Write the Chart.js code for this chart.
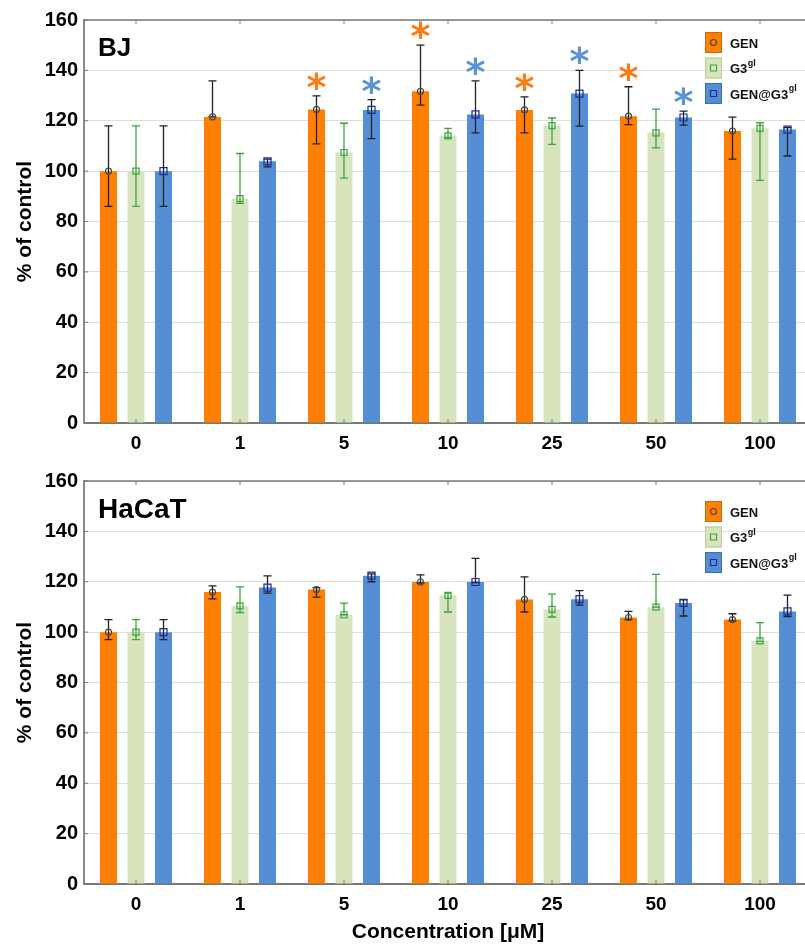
<!DOCTYPE html>
<html lang="en">
<head>
<meta charset="UTF-8">
<title>BJ / HaCaT – % of control</title>
<script src="https://cdn.jsdelivr.net/npm/chart.js"></script>
<style>
  html, body { margin: 0; padding: 0; background: #fff; overflow: hidden; width: 805px; height: 948px; }
  canvas { position: absolute; left: 0; }
  #bjChart { top: 0; }
  #hacatChart { top: 460px; }
</style>
</head>
<body>

<canvas id="bjChart" width="812" height="460"></canvas>
<canvas id="hacatChart" width="812" height="488"></canvas>

<script>
// categories (concentration, µM)
const categories = ['0', '1', '5', '10', '25', '50', '100'];
const yTicks = [0, 20, 40, 60, 80, 100, 120, 140, 160];

const seriesNames = ['GEN', 'G3', 'GEN@G3'];
const seriesSup = ['', 'gl', 'gl'];

// BJ
const bjGen      = [100, 121.5, 124.5, 131.7, 124.3, 121.8, 115.9];
const bjGenLow   = [86, 121.5, 110.8, 126.2, 115.2, 118.5, 104.8];
const bjGenHigh  = [118, 135.8, 129.9, 150, 129.5, 133.5, 121.4];
const bjG3       = [100, 89.1, 107.4, 114, 118.1, 115.2, 117];
const bjG3Low    = [86, 87.2, 97.2, 113.3, 110.6, 109.2, 96.3];
const bjG3High   = [118, 107, 119, 117, 121.1, 124.6, 119.2];
const bjMix      = [100, 103.9, 124.3, 122.5, 130.8, 121.3, 116.5];
const bjMixLow   = [86, 101.7, 112.9, 115.2, 117.9, 118.3, 106];
const bjMixHigh  = [118, 104.8, 128.4, 135.8, 140, 123.8, 117.3];
const bjStarsGen = [2, 3, 4, 5];
const bjStarsMix = [2, 3, 4, 5];

// HaCaT
const hcGen      = [100, 115.9, 116.9, 119.9, 113, 105.8, 105];
const hcGenLow   = [97, 113.2, 113.9, 119.5, 108, 105, 104.5];
const hcGenHigh  = [105, 118.4, 117.7, 122.7, 121.9, 108.2, 107.3];
const hcG3       = [100, 110.4, 106.9, 114.6, 109, 109.9, 96.5];
const hcG3Low    = [97, 107.8, 106.9, 108, 106, 109.9, 96.3];
const hcG3High   = [105, 118, 111.5, 115.5, 115.1, 122.9, 103.8];
const hcMix      = [100, 117.7, 122.4, 119.9, 113.1, 111.6, 108.2];
const hcMixLow   = [97, 115.5, 120, 119.7, 110.7, 106.4, 106.2];
const hcMixHigh  = [105, 122.3, 123.1, 129.3, 116.5, 112.8, 114.7];

const ORANGE = '#ff8000';
const GREEN = '#d8e4bd';
const BLUE = '#558ed5';
const FONT = 'Arial, "Liberation Sans", sans-serif';

function drawMarker(ctx, kind, x, y, color) {
  ctx.strokeStyle = color;
  ctx.lineWidth = 1.2;
  ctx.beginPath();
  if (kind === 'circle') {
    ctx.arc(x, y, 3, 0, Math.PI * 2);
  } else if (kind === 'square') {
    ctx.rect(x - 3, y - 3, 6, 6);
  } else {
    ctx.rect(x - 3.5, y - 3.5, 7, 7);
  }
  ctx.stroke();
}

const decor = {
  id: 'decor',
  afterDatasetsDraw(chart, args, opts) {
    const ctx = chart.ctx;
    const area = chart.chartArea;
    const xs = chart.scales.x, ys = chart.scales.y;
    ctx.save();

    // top frame + inner ticks
    ctx.strokeStyle = '#7a7a7a';
    ctx.lineWidth = 1.5;
    ctx.beginPath();
    ctx.moveTo(area.left, area.top);
    ctx.lineTo(area.right, area.top);
    ctx.stroke();
    ctx.lineWidth = 1;
    ctx.beginPath();
    xs.ticks.forEach((t, i) => {
      const px = xs.getPixelForTick(i);
      ctx.moveTo(px, area.top); ctx.lineTo(px, area.top + 4);
      ctx.moveTo(px, area.bottom); ctx.lineTo(px, area.bottom - 4);
    });
    ys.ticks.forEach((t, i) => {
      const py = ys.getPixelForTick(i);
      ctx.moveTo(area.left, py); ctx.lineTo(area.left + 4, py);
    });
    ctx.stroke();

    // error bars, markers, significance stars
    chart.data.datasets.forEach((ds, di) => {
      const meta = chart.getDatasetMeta(di);
      meta.data.forEach((bar, j) => {
        const cx = bar.x;
        const yl = ys.getPixelForValue(ds.errLow[j]);
        const yh = ys.getPixelForValue(ds.errHigh[j]);
        ctx.strokeStyle = ds.errColor;
        ctx.lineWidth = 1.3;
        ctx.beginPath();
        ctx.moveTo(cx, yl); ctx.lineTo(cx, yh);
        ctx.moveTo(cx - 4, yl); ctx.lineTo(cx + 4, yl);
        ctx.moveTo(cx - 4, yh); ctx.lineTo(cx + 4, yh);
        ctx.stroke();
        drawMarker(ctx, ds.marker, cx, ys.getPixelForValue(ds.data[j]), ds.markerColor);

        if (ds.stars.includes(j)) {
          ctx.fillStyle = ds.starColor;
          ctx.font = 'bold 38px "DejaVu Sans"';
          ctx.textAlign = 'center';
          ctx.textBaseline = 'alphabetic';
          const m = ctx.measureText('*');
          const cy = yh - 15;
          ctx.fillText('*', cx, cy + (m.actualBoundingBoxAscent - m.actualBoundingBoxDescent) / 2);
        }
      });
    });

    // panel title
    ctx.fillStyle = '#000';
    ctx.textAlign = 'left';
    ctx.textBaseline = 'alphabetic';
    ctx.font = 'bold ' + opts.titleSize + 'px ' + FONT;
    ctx.fillText(opts.title, area.left + 14, opts.titleBase);

    // legend
    const bx = area.right - 107;
    chart.data.datasets.forEach((ds, di) => {
      const by = area.top + opts.legendTop + di * 25.5;
      ctx.fillStyle = ds.backgroundColor;
      ctx.fillRect(bx, by, 17, 21);
      ctx.strokeStyle = ds.legendBorder;
      ctx.lineWidth = 1;
      ctx.strokeRect(bx + 0.5, by + 0.5, 16, 20);
      drawMarker(ctx, ds.marker === 'circle' ? 'circle' : 'square', bx + 8.5, by + 10.5, ds.markerColor);
      ctx.fillStyle = '#111';
      ctx.font = 'bold 13px ' + FONT;
      ctx.textBaseline = 'middle';
      ctx.fillText(seriesNames[di], bx + 25, by + 12);
      if (seriesSup[di]) {
        const w = ctx.measureText(seriesNames[di]).width;
        ctx.font = 'bold 9px ' + FONT;
        ctx.fillText(seriesSup[di], bx + 25 + w + 0.5, by + 6);
      }
    });
    ctx.restore();
  }
};

function makeChart(id, gen, genLow, genHigh, g3, g3Low, g3High, mix, mixLow, mixHigh, starsGen, starsMix, cfg) {
  const ctx = document.getElementById(id).getContext('2d');
  return new Chart(ctx, {
    type: 'bar',
    data: {
      labels: categories,
      datasets: [
        { label: 'GEN', data: gen, backgroundColor: ORANGE, errLow: genLow, errHigh: genHigh,
          errColor: '#222', marker: 'circle', markerColor: '#4a4a4a', stars: starsGen, starColor: '#ff7a12',
          legendBorder: '#c86a10' },
        { label: 'G3gl', data: g3, backgroundColor: GREEN, errLow: g3Low, errHigh: g3High,
          errColor: '#3fa33f', marker: 'square', markerColor: '#3fa33f', stars: [], starColor: '#3fa33f',
          legendBorder: '#b9cc98' },
        { label: 'GEN@G3gl', data: mix, backgroundColor: BLUE, errLow: mixLow, errHigh: mixHigh,
          errColor: '#222', marker: 'bigsquare', markerColor: '#1a2a9a', stars: starsMix, starColor: '#5b93d6',
          legendBorder: '#3f6ea8' }
      ]
    },
    options: {
      responsive: false,
      animation: false,
      layout: { padding: { top: cfg.padTop, right: 0, bottom: 0, left: 0 } },
      datasets: { bar: { barPercentage: 0.62, categoryPercentage: 0.793 } },
      scales: {
        x: {
          grid: { display: false },
          border: { color: '#777', width: 2 },
          ticks: { color: '#000', padding: 1, font: { family: FONT, size: 19, weight: 'bold' } },
          title: {
            display: cfg.xTitle, text: 'Concentration [μM]', color: '#000',
            font: { family: FONT, size: 21, weight: 'bold' }, padding: { top: 0, bottom: 3 }
          },
          afterFit: s => { s.height = cfg.xHeight; }
        },
        y: {
          min: 0, max: 160,
          afterBuildTicks: s => { s.ticks = yTicks.map(v => ({ value: v })); },
          grid: { color: '#dedede', lineWidth: 1, drawTicks: false },
          border: { color: '#888', width: 2 },
          ticks: { color: '#000', padding: 6, font: { family: FONT, size: 20, weight: 'bold' } },
          title: {
            display: true, text: '% of control', color: '#000',
            font: { family: FONT, size: 21, weight: 'bold' }, padding: { top: 13, bottom: 0 }
          },
          afterFit: s => { s.width = 84; }
        }
      },
      plugins: {
        legend: { display: false },
        tooltip: { enabled: false },
        decor: { title: cfg.title, titleSize: cfg.titleSize, titleBase: cfg.titleBase, legendTop: cfg.legendTop }
      }
    },
    plugins: [decor]
  });
}

makeChart('bjChart', bjGen, bjGenLow, bjGenHigh, bjG3, bjG3Low, bjG3High, bjMix, bjMixLow, bjMixHigh,
  bjStarsGen, bjStarsMix,
  { padTop: 20, xHeight: 37, xTitle: false, title: 'BJ', titleSize: 26, titleBase: 56, legendTop: 12 });

makeChart('hacatChart', hcGen, hcGenLow, hcGenHigh, hcG3, hcG3Low, hcG3High, hcMix, hcMixLow, hcMixHigh,
  [], [],
  { padTop: 21, xHeight: 64, xTitle: true, title: 'HaCaT', titleSize: 28, titleBase: 58, legendTop: 20 });
</script>

</body>
</html>
